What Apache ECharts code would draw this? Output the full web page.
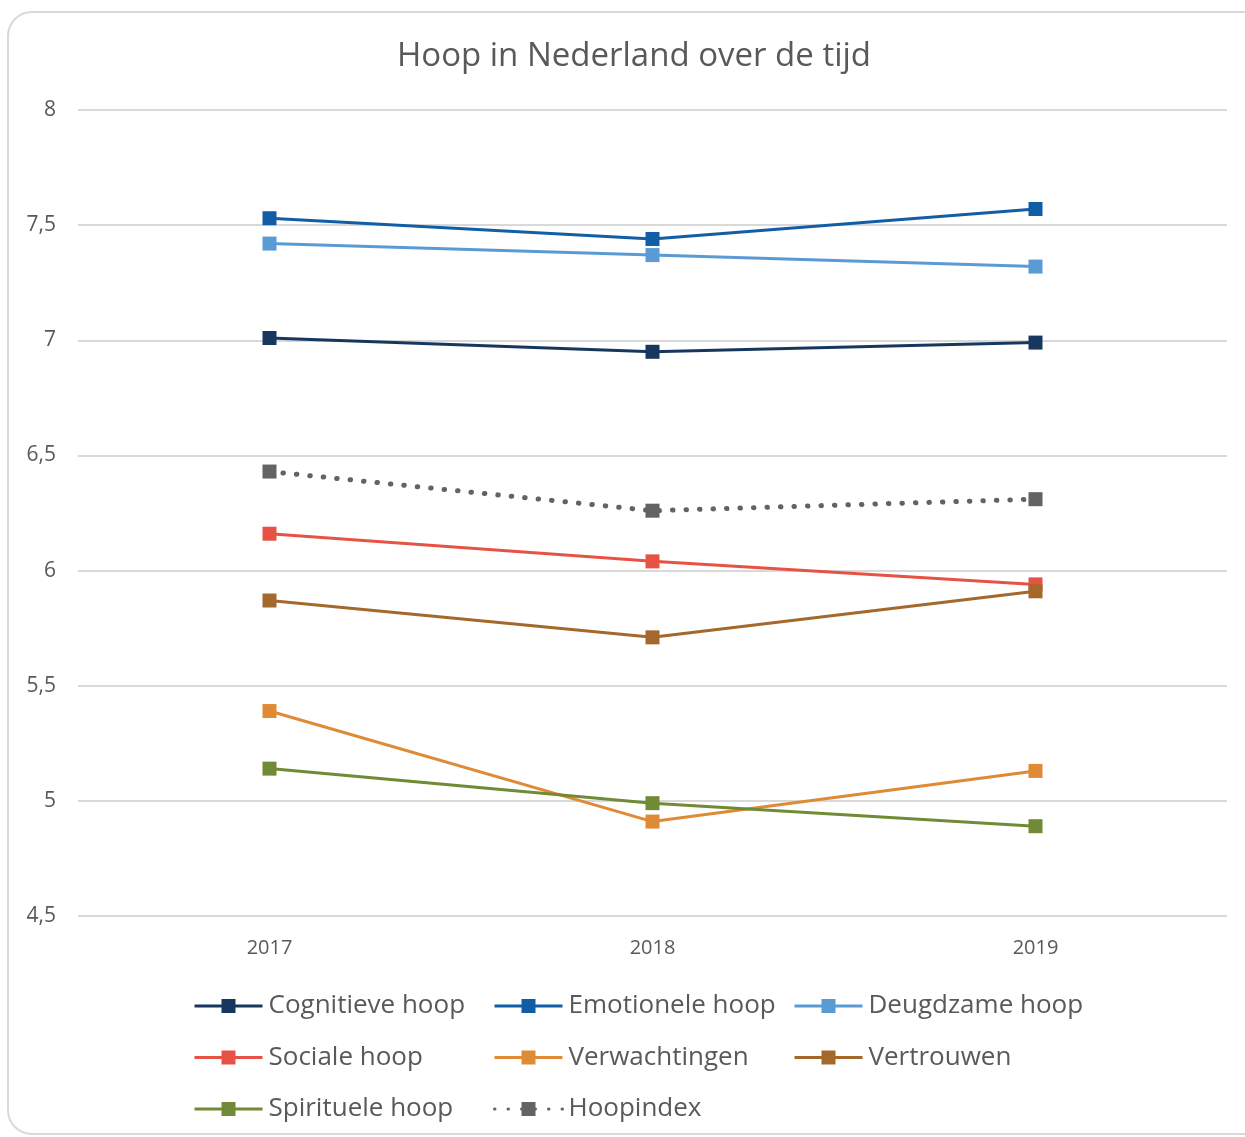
<!DOCTYPE html>
<html lang="nl">
<head>
    <meta charset="UTF-8">
    <title>Hoop in Nederland over de tijd</title>
    <script src="https://cdn.jsdelivr.net/npm/echarts@6/dist/echarts.min.js"></script>
    <style>
        html, body { margin: 0; padding: 0; background: #fff; }
        #chart { width: 1245px; height: 1137px; }
    </style>
</head>
<body>
<div id="chart"></div>
<script>
    // data
    var jaren = ['2017', '2018', '2019'];
    var cognitieve = [7.01, 6.95, 6.99];
    var emotionele = [7.53, 7.44, 7.57];
    var deugdzame = [7.42, 7.37, 7.32];
    var sociale = [6.16, 6.04, 5.94];
    var verwachtingen = [5.39, 4.91, 5.13];
    var vertrouwen = [5.87, 5.71, 5.91];
    var spirituele = [5.14, 4.99, 4.89];
    var hoopindex = [6.43, 6.26, 6.31];

    var font = '"Open Sans", Lato, sans-serif';
    var grijs = '#595959';

    function lijn(naam, data, kleur, dotted) {
        return {
            name: naam,
            type: 'line',
            data: data,
            symbol: 'rect',
            symbolSize: 14,
            showSymbol: true,
            itemStyle: { color: kleur },
            lineStyle: dotted
                ? { color: kleur, width: 5, type: [0.5, 13], cap: 'round' }
                : { color: kleur, width: 3 },
            emphasis: { disabled: true },
            z: dotted ? 1 : 2
        };
    }

    // one legend per column so the columns line up like the original
    function legenda(left, namen) {
        return {
            orient: 'vertical',
            left: left,
            top: 991,
            padding: 0,
            itemGap: 21.5,
            itemWidth: 68,
            itemHeight: 17.5,
            data: namen,
            lineStyle: { width: 3 },
            textStyle: { fontFamily: font, fontSize: 26, lineHeight: 30, color: grijs, padding: [0, 0, 0, 1] }
        };
    }

    var myChart = echarts.init(document.getElementById('chart'));
    var option = {
        animation: false,
        backgroundColor: '#fff',
        graphic: [{
            type: 'rect',
            z: -10,
            shape: { x: 8, y: 12, width: 1260, height: 1122, r: 24 },
            style: { fill: '#fff', stroke: '#d9d9d9', lineWidth: 2 }
        }],
        title: {
            text: 'Hoop in Nederland over de tijd',
            left: 629,
            top: 35,
            textAlign: 'center',
            textStyle: { fontFamily: font, fontSize: 33, fontWeight: 'normal', color: grijs }
        },
        legend: [
            legenda(193, ['Cognitieve hoop', 'Sociale hoop', 'Spirituele hoop']),
            legenda(493, ['Emotionele hoop', 'Verwachtingen', 'Hoopindex']),
            legenda(793, ['Deugdzame hoop', 'Vertrouwen'])
        ],
        grid: { left: 78, right: 18, top: 110, bottom: 221 },
        xAxis: {
            type: 'category',
            data: jaren,
            boundaryGap: true,
            axisLine: { show: false },
            axisTick: { show: false },
            axisLabel: { fontFamily: font, fontSize: 20, color: grijs, margin: 22 }
        },
        yAxis: {
            type: 'value',
            min: 4.5,
            max: 8,
            interval: 0.5,
            axisLine: { show: false },
            axisTick: { show: false },
            splitLine: { lineStyle: { color: '#d9d9d9', width: 2 } },
            axisLabel: {
                fontFamily: font, fontSize: 21, color: grijs, margin: 22,
                formatter: function (v) { return String(v).replace('.', ','); }
            }
        },
        series: [
            lijn('Cognitieve hoop', cognitieve, '#17375e'),
            lijn('Emotionele hoop', emotionele, '#125ea6'),
            lijn('Deugdzame hoop', deugdzame, '#5b9bd5'),
            lijn('Sociale hoop', sociale, '#e65244'),
            lijn('Verwachtingen', verwachtingen, '#df8a35'),
            lijn('Vertrouwen', vertrouwen, '#a3682a'),
            lijn('Spirituele hoop', spirituele, '#718a35'),
            lijn('Hoopindex', hoopindex, '#636363', true)
        ]
    };
    myChart.setOption(option);

    window.onresize = function () {
        myChart.resize();
    };
</script>
</body>
</html>
